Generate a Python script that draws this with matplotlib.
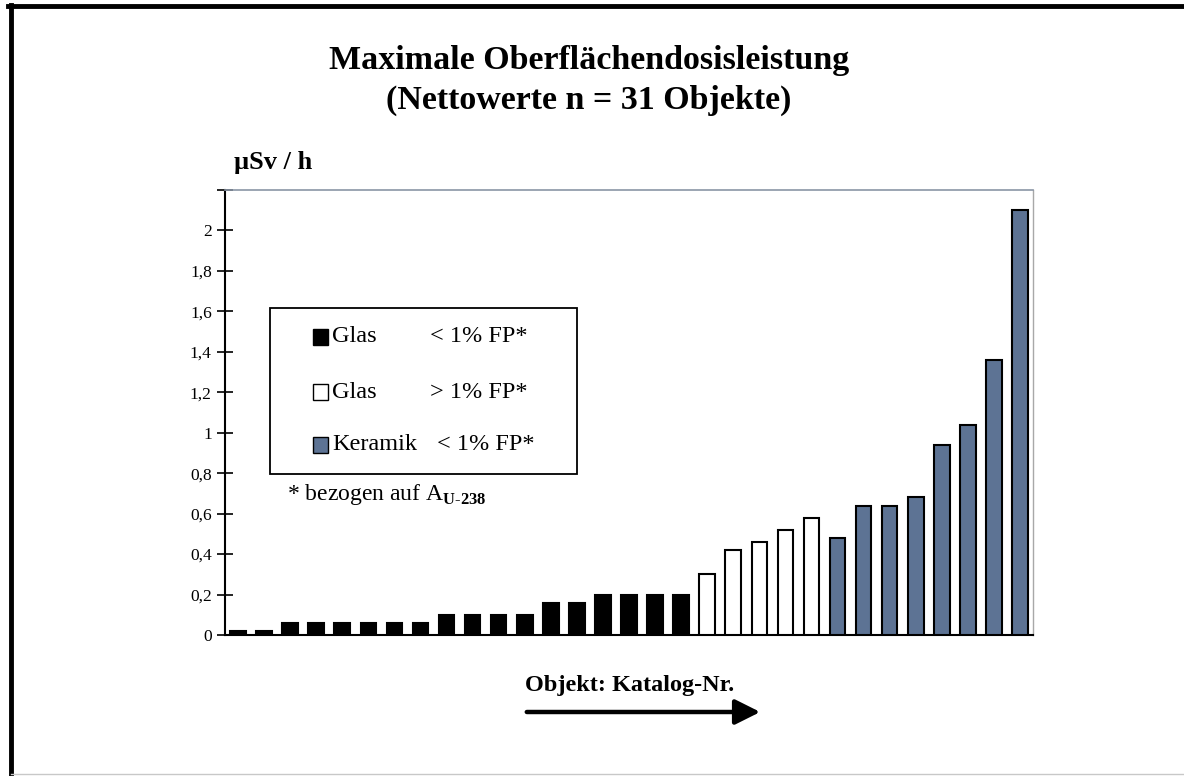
import matplotlib
matplotlib.use("Agg")
import matplotlib.pyplot as plt
from matplotlib.lines import Line2D
from matplotlib.patches import Rectangle, FancyArrowPatch

plt.rcParams["font.family"] = ["Liberation Serif", "DejaVu Serif"]
plt.rcParams["mathtext.fontset"] = "custom"
plt.rcParams["mathtext.rm"] = "Liberation Serif"
plt.rcParams["mathtext.bf"] = "Liberation Serif:bold"

# Messwerte (µSv/h), sortiert nach Gruppe
glas_unter = [0.02, 0.02, 0.06, 0.06, 0.06, 0.06, 0.06, 0.06,
              0.10, 0.10, 0.10, 0.10, 0.16, 0.16, 0.20, 0.20, 0.20, 0.20]
glas_ueber = [0.30, 0.42, 0.46, 0.52, 0.58]
keramik = [0.48, 0.64, 0.64, 0.68, 0.94, 1.04, 1.36, 2.10]

groups = [
    ("Glas", "< 1% FP*", glas_unter, "black"),
    ("Glas", "> 1% FP*", glas_ueber, "white"),
    ("Keramik", "< 1% FP*", keramik, "#5d7394"),
]
yticks = [0, 0.2, 0.4, 0.6, 0.8, 1.0, 1.2, 1.4, 1.6, 1.8, 2.0]

W, H = 1184, 776
fig = plt.figure(figsize=(W / 100, H / 100), dpi=100, facecolor="white")


def fx(px):
    return px / W


def fy(py):
    return 1 - py / H


# Rahmen der Folie
fig.add_artist(Line2D([fx(8), 1.0], [fy(6), fy(6)], color="black", lw=3.5))
fig.add_artist(Line2D([fx(11), fx(11)], [fy(5), fy(776)], color="black", lw=3.5))
fig.add_artist(Line2D([fx(11), 1.0], [fy(774), fy(774)], color="#c8c8c8", lw=1))

fig.text(fx(589), fy(60), "Maximale Oberflächendosisleistung", ha="center",
         va="center", fontsize=24.5, fontweight="bold")
fig.text(fx(589), fy(100), "(Nettowerte n = 31 Objekte)", ha="center",
         va="center", fontsize=24.5, fontweight="bold")
fig.text(fx(234), fy(162), "µSv / h", ha="left", va="center", fontsize=19,
         fontweight="bold")

ax = fig.add_axes([fx(225), fy(635), fx(1033) - fx(225), fy(190) - fy(635)])

pos = 0
for name, fp, vals, col in groups:
    xs = list(range(pos, pos + len(vals)))
    ax.bar(xs, vals, width=0.6, color=col, edgecolor="black", linewidth=1.5,
           zorder=3)
    pos += len(vals)

ax.set_xlim(-0.5, pos - 0.5)
ax.set_ylim(0, 2.2)
ax.set_xticks([])
ax.set_yticks(yticks + [2.2])
ax.set_yticklabels([f"{v:g}".replace(".", ",") for v in yticks] + [""],
                   fontsize=12.5)
ax.tick_params(axis="y", direction="inout", length=11, width=1.2, pad=4)
ax.spines["left"].set_linewidth(1.5)
ax.spines["bottom"].set_linewidth(1.5)
ax.spines["top"].set_color("#8a96a6")
ax.spines["top"].set_linewidth(1.2)
ax.spines["right"].set_color("#a8a8a8")
ax.spines["right"].set_linewidth(1)

# Legende als Kasten mit zwei Textspalten
ax.add_patch(Rectangle((0.0557, 0.3618), 0.38, 0.373, transform=ax.transAxes,
                       facecolor="white", edgecolor="black", lw=1.3, zorder=5))
rows_y = [0.670, 0.546, 0.427]
for (name, fp, vals, col), ry in zip(groups, rows_y):
    ax.add_patch(Rectangle((0.1095, ry - 0.0175), 0.0185, 0.035,
                           transform=ax.transAxes, facecolor=col,
                           edgecolor="black", lw=1, zorder=6))
    ax.text(0.133, ry, name, transform=ax.transAxes, ha="left", va="center",
            fontsize=17.5, zorder=7)
    fpx = 0.262 if name == "Keramik" else 0.2537
    ax.text(fpx, ry, fp, transform=ax.transAxes, ha="left", va="center",
            fontsize=17.5, zorder=7)

ax.text(0.077, 0.315, r"* bezogen auf A$_{\mathbf{U\text{-}238}}$",
        transform=ax.transAxes, ha="left", va="center", fontsize=17, zorder=7)

fig.text(fx(630), fy(686), "Objekt: Katalog-Nr.", ha="center", va="center",
         fontsize=17.5, fontweight="bold")
fig.add_artist(FancyArrowPatch((fx(524), fy(712)), (fx(763), fy(712)),
                               transform=fig.transFigure, arrowstyle="-|>",
                               mutation_scale=38, lw=3.2, color="black"))

fig.savefig("out.png", dpi=100, facecolor="white")
